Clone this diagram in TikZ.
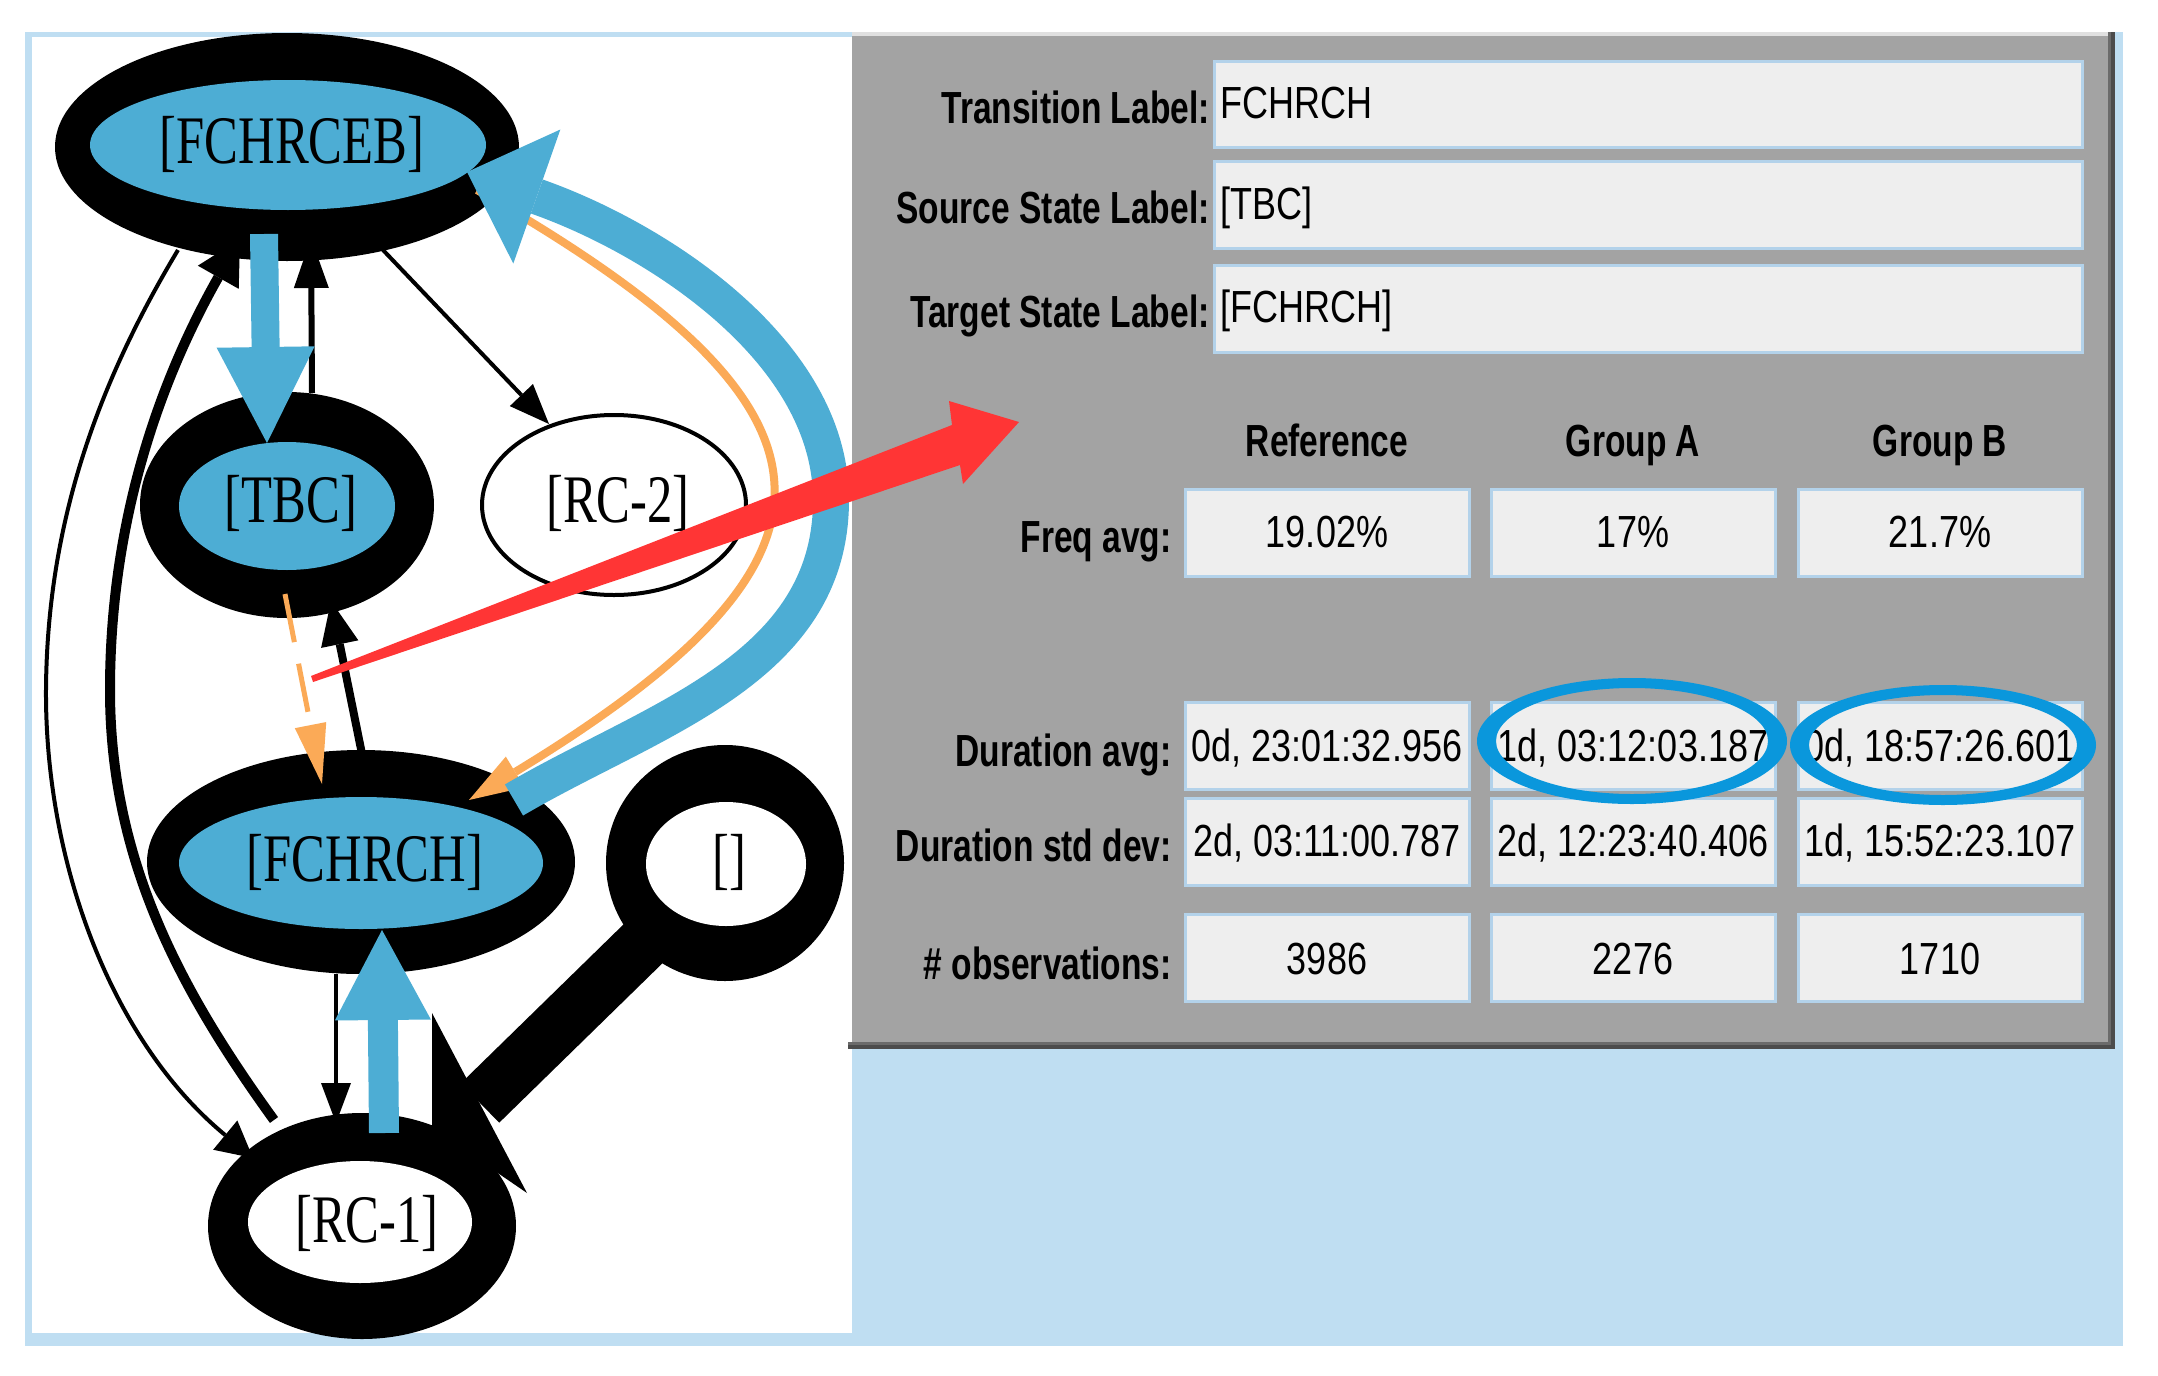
\documentclass[tikz,border=0pt]{standalone}
\usepackage{fontspec}
\usepackage{graphicx}
\setmainfont{Liberation Serif}
\newfontfamily\guisans{Liberation Sans}
\usetikzlibrary{shapes.geometric,arrows.meta}

\definecolor{nodeblue}{HTML}{4DADD4}
\definecolor{edgeorange}{HTML}{FBAA57}
\definecolor{arrowred}{HTML}{FF3535}
\definecolor{ringblue}{HTML}{0A97DC}
\definecolor{framebg}{HTML}{BFDEF2}
\definecolor{panelgray}{HTML}{A3A3A3}
\definecolor{cellfill}{HTML}{EEEEEE}
\definecolor{cellline}{HTML}{B3D2EA}

\newcommand{\statetxt}[1]{\scalebox{0.745}[1]{#1}}
\newcommand{\boldtxt}[1]{\scalebox{0.745}[1]{#1}}
\newcommand{\plaintxt}[1]{\scalebox{0.80}[1]{#1}}

\begin{document}
\begin{tikzpicture}[x=0.5pt, y=-0.5pt,
  ringnode/.style={ellipse, fill=black, inner sep=0pt, outer sep=0pt},
  corenode/.style={ellipse, inner sep=0pt, outer sep=0pt},
  statelabel/.style={inner sep=0pt, anchor=base, font=\fontsize{34}{40}\selectfont},
  cellbox/.style={rectangle, fill=cellfill, draw=cellline, line width=1.5pt, inner sep=0pt, outer sep=0pt},
  fieldlabel/.style={inner sep=0pt, font=\guisans\bfseries\fontsize{22.5}{27}\selectfont},
  fieldvalue/.style={inner sep=0pt, font=\guisans\fontsize{22.5}{27}\selectfont},
  headed/.style n args={2}{-{Triangle[length=#1,width=#2,line width=0pt]}},
  edgeline/.style={line cap=butt}
]
\useasboundingbox (0,0) rectangle (2158,1376);
\fill[white] (0,0) rectangle (2158,1376);
\fill[framebg] (25,32) rectangle (2123,1346);
\fill[white] (32,37) rectangle (852,1333);

% ---------- states ----------
\node[ringnode, minimum width=232pt, minimum height=114pt] (fchrceb) at (287,147) {};
\node[corenode, fill=nodeblue, minimum width=198pt, minimum height=65pt] (fchrcebin) at (288,145) {};
\node[statelabel] (fchrcebtxt) at (292,163) {\statetxt{[FCHRCEB]}};

\node[ringnode, minimum width=147pt, minimum height=113pt] (tbc) at (287,505) {};
\node[corenode, fill=nodeblue, minimum width=108pt, minimum height=64pt] (tbcin) at (287,506) {};
\node[statelabel] (tbctxt) at (291,522) {\statetxt{[TBC]}};

\node[ellipse, draw=black, line width=2pt, fill=white, inner sep=0pt, minimum width=132pt, minimum height=90pt] (rc2) at (614,505) {};
\node[statelabel] (rc2txt) at (618,522) {\statetxt{[RC-2]}};

\node[ringnode, minimum width=214pt, minimum height=112pt] (fchrch) at (361,862) {};
\node[corenode, fill=nodeblue, minimum width=182pt, minimum height=66pt] (fchrchin) at (361,863) {};
\node[statelabel] (fchrchtxt) at (365,881) {\statetxt{[FCHRCH]}};

\node[ringnode, minimum width=119pt, minimum height=118pt] (nil) at (725,863) {};
\node[corenode, fill=white, minimum width=80pt, minimum height=62pt] (nilin) at (726,864) {};
\node[statelabel] (niltxt) at (729,881) {\statetxt{[]}};

\node[ringnode, minimum width=154pt, minimum height=113pt] (rc1) at (362,1226) {};
\node[corenode, fill=white, minimum width=112pt, minimum height=61pt] (rc1in) at (360,1222) {};
\node[statelabel] (rc1txt) at (367,1242) {\statetxt{[RC-1]}};

% ---------- edge end points ----------
\coordinate (aS) at (264,234);  \coordinate (aE) at (267,443);
\coordinate (bS) at (312,393);  \coordinate (bE) at (311,238);
\coordinate (cS) at (383,250);  \coordinate (cE) at (549,424);
\coordinate (dS) at (477,190);  \coordinate (dE) at (469,800);
\coordinate (eS) at (514,800);  \coordinate (eM) at (831,500); \coordinate (eE) at (467,172);
\coordinate (fS) at (285,594);  \coordinate (fE) at (322,784);
\coordinate (gS) at (362,754);  \coordinate (gE) at (331,601);
\coordinate (hS) at (336,974);  \coordinate (hE) at (336,1123);
\coordinate (iS) at (384,1133); \coordinate (iE) at (382,930);
\coordinate (jS) at (651,936);  \coordinate (jM) at (480,1103);
\coordinate (jA) at (432,1013); \coordinate (jB) at (527,1193); \coordinate (jT) at (432,1128);
\coordinate (kS) at (178,250);  \coordinate (kM) at (46,690);  \coordinate (kE) at (253,1158);
\coordinate (lS) at (274,1120); \coordinate (lM) at (110,690); \coordinate (lE) at (240,239);

% ---------- edges ----------
% RC-1 -> FCHRCEB
\draw[edgeline, line width=5pt, headed={22pt}{23.5pt}] (lS) .. controls (180,990) and (110,860) .. (lM) .. controls (110,520) and (160,380) .. (lE);
% FCHRCEB -> RC-1
\draw[edgeline, line width=2pt, headed={18pt}{19pt}] (kS) .. controls (100,380) and (47,520) .. (kM) .. controls (45,860) and (110,1040) .. (kE);
% FCHRCEB -> RC-2
\draw[edgeline, line width=2pt, headed={20pt}{16pt}] (cS) -- (cE);
% FCHRCH -> RC-1
\draw[edgeline, line width=2pt, headed={20pt}{15pt}] (hS) -- (hE);
% TBC -> FCHRCEB
\draw[edgeline, line width=3pt, headed={25pt}{17.5pt}] (bS) -- (bE);
% FCHRCH -> TBC
\draw[edgeline, line width=4pt, headed={22pt}{19pt}] (gS) -- (gE);
% TBC -> FCHRCH (dashed orange)
\draw[edgeline, edgeorange, line width=2.5pt, dash pattern=on 24.5pt off 11pt, headed={30pt}{16pt}] (fS) -- (fE);
% FCHRCEB -> FCHRCH (orange)
\draw[edgeline, edgeorange, line width=4pt, headed={27pt}{18pt}] (dS) .. controls (860,409) and (874,554) .. (dE);
% FCHRCEB -> TBC (blue)
\draw[edgeline, nodeblue, line width=14pt, headed={48pt}{49pt}] (aS) -- (aE);
% [] -> RC-1 (thick black)
\draw[edgeline, line width=27.5pt] (jS) -- (jM);
\fill[black] (jA) -- (jB) -- (jT) -- cycle;
% RC-1 -> FCHRCH (blue)
\draw[edgeline, nodeblue, line width=15pt, headed={45pt}{48pt}] (iS) -- (iE);
% FCHRCH -> FCHRCEB (big blue arc)
\draw[edgeline, nodeblue, line width=18pt, headed={37pt}{71pt}] (eS) .. controls (652,719) and (831,670) .. (eM) .. controls (831,350) and (655,238) .. (eE);

% ---------- panel ----------
\fill[panelgray] (852,32) rectangle (2108,1042);
\fill[black!12] (852,32) rectangle (2108,36);
\fill[black!58] (2108,32) rectangle (2111,1049);
\fill[black!70] (2111,32) rectangle (2115,1049);
\fill[black!58] (848,1042) rectangle (2111,1045);
\fill[black!70] (848,1045) rectangle (2115,1049);

\node[cellbox, minimum width=434pt, minimum height=43pt] (transbox) at (1648,104) {};
\node[cellbox, minimum width=434pt, minimum height=43.5pt] (srcbox) at (1648,204.5) {};
\node[cellbox, minimum width=434pt, minimum height=43.5pt] (tgtbox) at (1648,308.5) {};

\node[fieldlabel, anchor=base east] (translbl) at (1210,123) {\boldtxt{Transition Label:}};
\node[fieldlabel, anchor=base east] (srclbl) at (1210,223) {\boldtxt{Source State Label:}};
\node[fieldlabel, anchor=base east] (tgtlbl) at (1210,327) {\boldtxt{Target State Label:}};
\node[fieldvalue, anchor=base west] (transval) at (1220,118) {\plaintxt{FCHRCH}};
\node[fieldvalue, anchor=base west] (srcval) at (1220,219) {\plaintxt{[TBC]}};
\node[fieldvalue, anchor=base west] (tgtval) at (1220,322) {\plaintxt{[FCHRCH]}};

\node[fieldlabel, anchor=base] (hdref) at (1327,456) {\boldtxt{Reference}};
\node[fieldlabel, anchor=base] (hda) at (1633,456) {\boldtxt{Group A}};
\node[fieldlabel, anchor=base] (hdb) at (1940,456) {\boldtxt{Group B}};

% cells
\foreach \cx/\cn in {1327/r,1633/a,1940/b}{
  \node[cellbox, minimum width=142pt, minimum height=43.5pt] (freq\cn) at (\cx,532.5) {};
  \node[cellbox, minimum width=142pt, minimum height=43.5pt] (davg\cn) at (\cx,745.5) {};
  \node[cellbox, minimum width=142pt, minimum height=43.5pt] (dstd\cn) at (\cx,841.5) {};
  \node[cellbox, minimum width=142pt, minimum height=43.5pt] (obs\cn) at (\cx,958) {};
}

\node[fieldlabel, anchor=base east] (freqlbl) at (1172,552) {\boldtxt{Freq avg:}};
\node[fieldlabel, anchor=base east] (davglbl) at (1172,766) {\boldtxt{Duration avg:}};
\node[fieldlabel, anchor=base east] (dstdlbl) at (1172,861) {\boldtxt{Duration std dev:}};
\node[fieldlabel, anchor=base east] (obslbl) at (1172,979) {\boldtxt{\# observations:}};

\node[fieldvalue, anchor=base] (freqrt) at (1327,547) {\plaintxt{19.02\%}};
\node[fieldvalue, anchor=base] (freqat) at (1633,547) {\plaintxt{17\%}};
\node[fieldvalue, anchor=base] (freqbt) at (1940,547) {\plaintxt{21.7\%}};
\node[fieldvalue, anchor=base] (davgrt) at (1327,761) {\plaintxt{0d, 23:01:32.956}};
\node[fieldvalue, anchor=base] (davgat) at (1633,761) {\plaintxt{1d, 03:12:03.187}};
\node[fieldvalue, anchor=base] (davgbt) at (1940,761) {\plaintxt{0d, 18:57:26.601}};
\node[fieldvalue, anchor=base] (dstdrt) at (1327,856) {\plaintxt{2d, 03:11:00.787}};
\node[fieldvalue, anchor=base] (dstdat) at (1633,856) {\plaintxt{2d, 12:23:40.406}};
\node[fieldvalue, anchor=base] (dstdbt) at (1940,856) {\plaintxt{1d, 15:52:23.107}};
\node[fieldvalue, anchor=base] (obsrt) at (1327,974) {\plaintxt{3986}};
\node[fieldvalue, anchor=base] (obsat) at (1633,974) {\plaintxt{2276}};
\node[fieldvalue, anchor=base] (obsbt) at (1940,974) {\plaintxt{1710}};

% highlight rings
\fill[ringblue, even odd rule] (1632,741) ellipse [x radius=77.5pt, y radius=31.5pt] (1632,741) ellipse [x radius=68pt, y radius=26.5pt];
\fill[ringblue, even odd rule] (1943,745) ellipse [x radius=76.5pt, y radius=30pt] (1943,745) ellipse [x radius=67pt, y radius=25pt];

% red annotation arrow
\fill[arrowred] (311,676) -- (952,425) -- (949,401) -- (1019,422) -- (963,484) -- (960,465) -- (313,682) -- cycle;
\end{tikzpicture}
\end{document}
